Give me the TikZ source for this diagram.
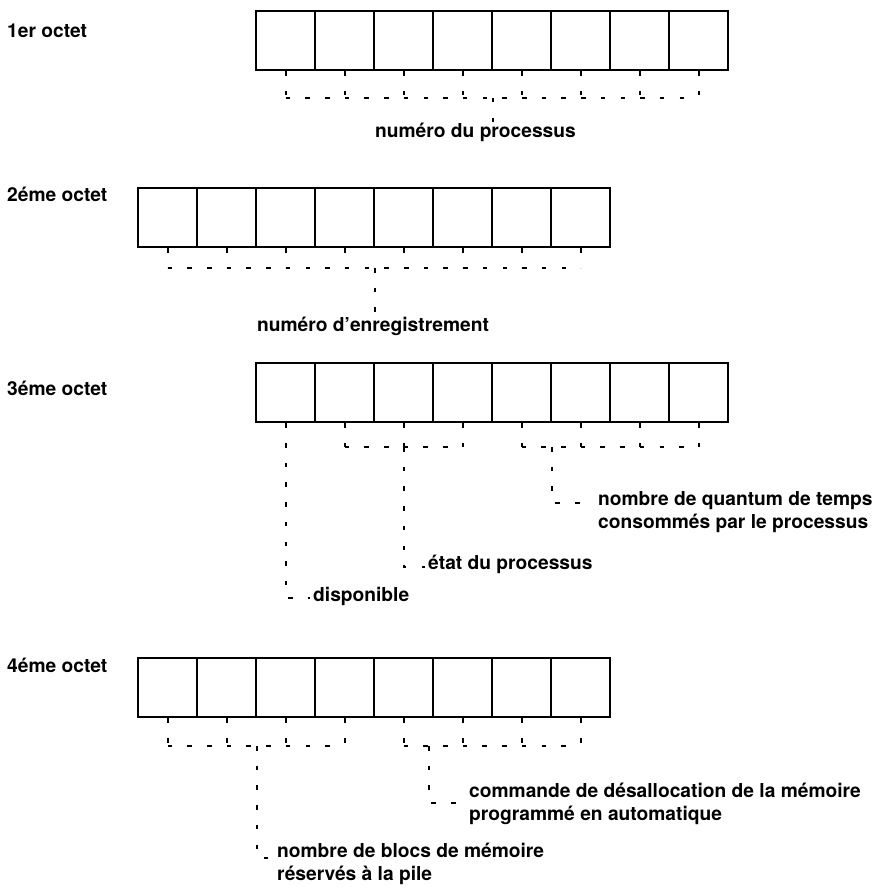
\documentclass[tikz,border=0pt]{standalone}
\usepackage{fontspec}
\setmainfont{TeX Gyre Heros}

\begin{document}
\begin{tikzpicture}[x=1pt, y=-1pt,
    font=\fontsize{19.2}{23}\selectfont\bfseries,
    cell/.style={draw, line width=2.3pt, minimum width=59pt, minimum height=59pt, inner sep=0pt, anchor=north west},
    dots/.style={line width=1.8pt, dash pattern=on 4.5pt off 15.2pt},
    txt/.style={anchor=base west, inner sep=0pt, align=left}]
    \useasboundingbox (0,0) rectangle (874,890);
    % 1er octet
    \node[txt] (o1) at (7,38) {1er octet};
    \foreach \i in {1,...,8}
        \node[cell] (a\i) at ({255+59*(\i-1)},10) {};
    \coordinate (ha) at (0,98);
    \foreach \i in {1,...,8}
        \draw[dots] (a\i.south) -- (a\i.south |- ha);
    \draw[dots] (a1.south |- ha) -- (a8.south |- ha);
    \node[txt] (ta) at (375,138) {numéro du processus};
    \draw[dots] (a4.south east |- ha) -- (a4.south east |- ta.north);
    % 2eme octet
    \node[txt] (o2) at (7,202) {2éme octet};
    \foreach \i in {1,...,8}
        \node[cell] (b\i) at ({137+59*(\i-1)},187) {};
    \coordinate (hb) at (0,268);
    \foreach \i in {1,...,8}
        \draw[dots] (b\i.south) -- (b\i.south |- hb);
    \draw[dots] (b1.south |- hb) -- (b8.south |- hb);
    \node[txt] (tb) at (257,331) {numéro d’enregistrement};
    \draw[dots] (b4.south east |- hb) -- (b4.south east |- tb.north);
    % 3eme octet
    \node[txt] (o3) at (7,395) {3éme octet};
    \foreach \i in {1,...,8}
        \node[cell] (c\i) at ({255+59*(\i-1)},362) {};
    \coordinate (hc) at (0,447);
    \foreach \i in {2,...,8}
        \draw[dots] (c\i.south) -- (c\i.south |- hc);
    \draw[dots] (c2.south |- hc) -- (c4.south |- hc);
    \draw[dots] (c5.south |- hc) -- (c8.south |- hc);
    \node[txt] (tc1) at (313,601) {disponible};
    \node[txt] (tc2) at (428,569) {état du processus};
    \node[txt] (tc3) at (598,528) {nombre de quantum de temps\\consommés par le processus};
    \coordinate (ec1) at (310,598);
    \coordinate (ec2) at (425,567);
    \coordinate (ec3) at (594,503);
    \draw[dots] (c1.south) |- (ec1);
    \draw[dots] (c3.south |- hc) |- (ec2);
    \draw[dots] (c5.south east |- hc) |- (ec3);
    % 4eme octet
    \node[txt] (o4) at (7,672) {4éme octet};
    \foreach \i in {1,...,8}
        \node[cell] (d\i) at ({137+59*(\i-1)},657) {};
    \coordinate (hd) at (0,746);
    \foreach \i in {1,...,8}
        \draw[dots] (d\i.south) -- (d\i.south |- hd);
    \draw[dots] (d1.south |- hd) -- (d4.south |- hd);
    \draw[dots] (d5.south |- hd) -- (d8.south |- hd);
    \node[txt] (td1) at (277,880) {nombre de blocs de mémoire\\réservés à la pile};
    \node[txt] (td2) at (469,820) {commande de désallocation de la mémoire\\programmé en automatique};
    \coordinate (ed1) at (272,858);
    \coordinate (ed2) at (466,803);
    \draw[dots] (d2.south east |- hd) |- (ed1);
    \draw[dots] ([xshift=-5pt]d5.south east |- hd) |- (ed2);
\end{tikzpicture}
\end{document}
